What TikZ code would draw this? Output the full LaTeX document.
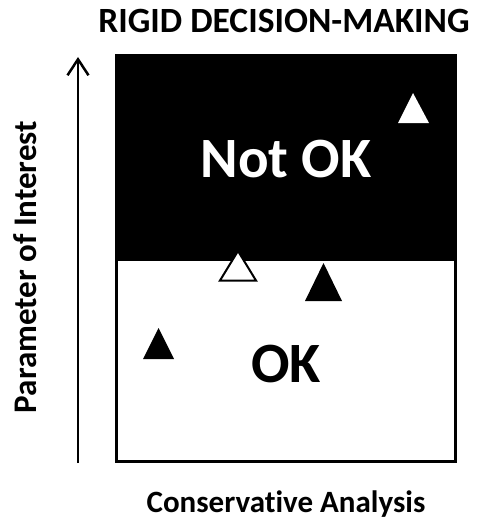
\documentclass[tikz,border=0pt]{standalone}
\usepackage{fontspec}
\setmainfont{Carlito}[Ligatures=NoCommon]
\usetikzlibrary{arrows.meta}
\tikzset{
  lbl/.style={font=\bfseries,anchor=base,inner sep=0pt},
  marker/.style={line width=2pt,line join=miter},
}

\begin{document}
\begin{tikzpicture}[x=1pt,y=-1pt]
\useasboundingbox (0,0) rectangle (477,519);

% zones of the chart
\draw[line width=3pt,fill=white] (116.5,55.5) rectangle (455.5,461.5);
\fill[black] (115,54) rectangle (457,261);

% vertical axis
\coordinate (axisfoot) at (78,463);
\coordinate (axistip) at (78,57);
\draw[line width=2.5pt,-{Straight Barb[length=16pt,width=21pt]}] (axisfoot) -- (axistip);

% labels
\node[lbl,font=\bfseries\fontsize{35.5}{39}\selectfont] (title) at (284,33) {RIGID DECISION-MAKING};
\node[lbl,font=\bfseries\fontsize{31}{35}\selectfont] (xlabel) at (286,512) {Conservative Analysis};
\node[lbl,font=\bfseries\fontsize{33}{37}\selectfont,rotate=90] (ylabel) at (36,267) {Parameter of Interest};
\node[lbl,text=white,font=\bfseries\fontsize{57}{60}\selectfont] (notok) at (286,177) {Not OK};
\node[lbl,font=\bfseries\fontsize{57}{60}\selectfont] (ok) at (286,382) {OK};

% cases
\fill[white] (413,93) -- (429,123) -- (398,123) -- cycle;
\draw[marker,fill=white] (238,251) -- (256,280.5) -- (220,280.5) -- cycle;
\fill[black] (323.5,263) -- (342,301) -- (305,301) -- cycle;
\fill[black] (158.5,328) -- (174,359) -- (143,359) -- cycle;
\end{tikzpicture}
\end{document}
